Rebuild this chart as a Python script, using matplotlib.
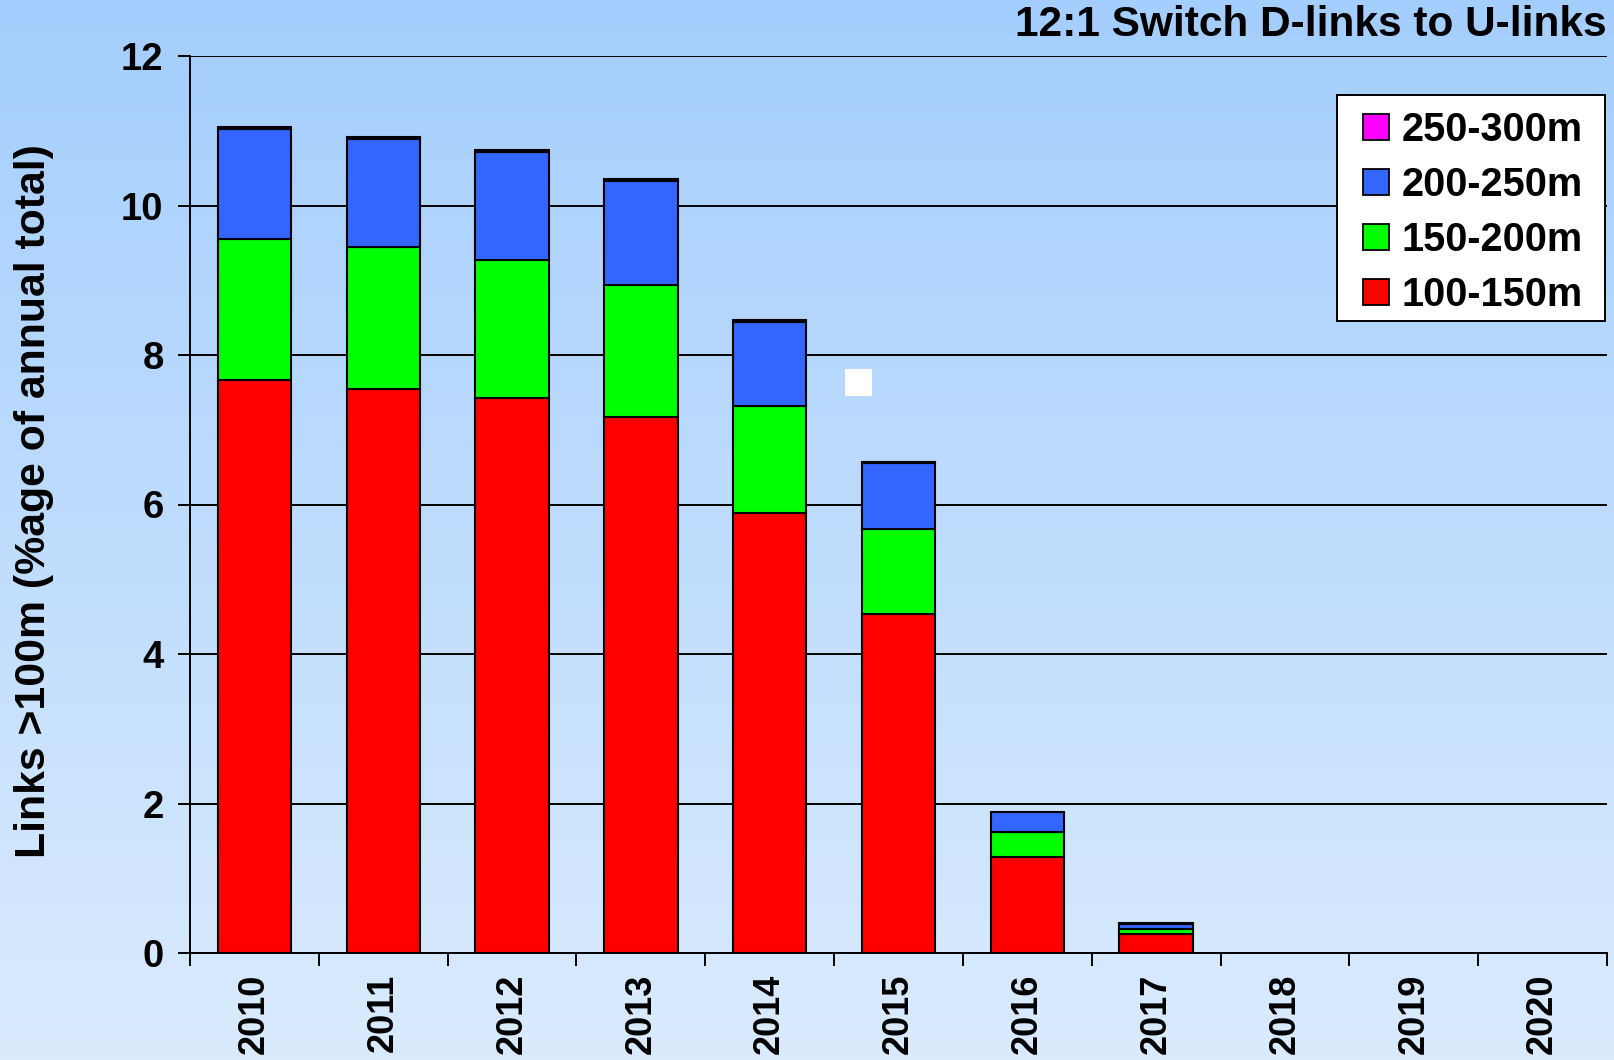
import numpy as np
import matplotlib
matplotlib.use('Agg')
import matplotlib.pyplot as plt
from matplotlib.patches import Rectangle, Patch
from matplotlib.legend_handler import HandlerPatch

plt.rcParams['font.family'] = ['Liberation Sans', 'DejaVu Sans']
plt.rcParams['font.weight'] = 'bold'

years = ['2010', '2011', '2012', '2013', '2014', '2015', '2016', '2017', '2018', '2019', '2020']
d100_150 = [7.66, 7.55, 7.43, 7.17, 5.88, 4.54, 1.29, 0.25, 0, 0, 0]
d150_200 = [1.89, 1.89, 1.84, 1.77, 1.44, 1.13, 0.33, 0.07, 0, 0, 0]
d200_250 = [1.47, 1.45, 1.45, 1.39, 1.12, 0.88, 0.26, 0.07, 0, 0, 0]
d250_300 = [0.025, 0.025, 0.025, 0.025, 0.025, 0.025, 0.0, 0.01, 0, 0, 0]

series = [('100-150m', d100_150, '#ff0000'),
          ('150-200m', d150_200, '#00ff00'),
          ('200-250m', d200_250, '#3366ff'),
          ('250-300m', d250_300, '#ff00ff')]


class SquareHandler(HandlerPatch):
    # legend key as a small black-edged square
    def create_artists(self, legend, orig_handle, xdescent, ydescent,
                       width, height, fontsize, trans):
        s = height
        p = Rectangle((width - s - xdescent, -ydescent), s, s,
                      facecolor=orig_handle.get_facecolor(), edgecolor='black',
                      linewidth=1.3, transform=trans)
        return [p]


fig = plt.figure(figsize=(16.15, 10.60), dpi=100)

# background gradient
bg = fig.add_axes([0, 0, 1, 1], zorder=-10)
top = np.array([164, 206, 254]) / 255
bot = np.array([218, 235, 253]) / 255
t = np.linspace(0, 1, 256)[:, None]
grad = top[None, :] * (1 - t) + bot[None, :] * t
bg.imshow(grad[:, None, :], aspect='auto', extent=[0, 1, 0, 1])
bg.axis('off')

ax = fig.add_axes([190 / 1615, 1 - 953 / 1060, 1417 / 1615, 897 / 1060])
ax.patch.set_alpha(0)

x = np.arange(len(years))
bottom = np.zeros(len(years))
for name, vals, col in series:
    vals = np.array(vals)
    mask = vals > 0
    ax.bar(x[mask], vals[mask], bottom=bottom[mask], width=0.57, color=col,
           edgecolor='black', linewidth=1.5, zorder=3)
    bottom += vals

ax.set_xlim(-0.5, len(years) - 0.5)
ax.set_ylim(0, 12)
ax.set_yticks(range(0, 13, 2))
ax.yaxis.grid(True, color='black', linewidth=1.4)
ax.set_axisbelow(True)
for s in ['top', 'right']:
    ax.spines[s].set_visible(False)
for s in ['left', 'bottom']:
    ax.spines[s].set_linewidth(1.4)

ax.set_xticks(x)
ax.set_xticklabels(years, rotation=90, fontsize=26, fontweight='bold')
ax.tick_params(axis='x', which='major', length=0, pad=15)
ax.set_xticks(np.arange(-0.5, len(years)), minor=True)
ax.tick_params(axis='x', which='minor', length=9, width=1.4, direction='out')
ax.tick_params(axis='y', length=9, width=1.4, labelsize=27.5, pad=10)
for lab in ax.get_yticklabels():
    lab.set_fontweight('bold')

# legend box drawn separately so the padding can match the original
ax.add_patch(Rectangle((0.8095, 0.7046), 0.1891, 0.252, transform=ax.transAxes,
                       facecolor='white', edgecolor='black', linewidth=1.4,
                       clip_on=False, zorder=4))
leg_handles = [Patch(facecolor=c, label=n) for n, _, c in series][::-1]
leg = ax.legend(handles=leg_handles, loc='upper right',
                bbox_to_anchor=(0.983, 0.9387), fontsize=28.5, frameon=False,
                handlelength=0.62, handleheight=0.62, handletextpad=0.33,
                labelspacing=0.43, borderpad=0, borderaxespad=0,
                handler_map={Patch: SquareHandler()})
leg.set_zorder(5)
for txt in leg.get_texts():
    txt.set_fontweight('bold')

fig.text(34 / 1615, 1 - 501 / 1060, 'Links >100m (%age of annual total)', rotation=90,
         ha='center', va='center', fontsize=30.8, fontweight='bold')
fig.text(1607 / 1615, 1 - 25 / 1060, '12:1 Switch D-links to U-links', ha='right',
         va='center', fontsize=30.5, fontweight='bold')

# small white square artefact
fig.patches.append(Rectangle((845 / 1615, 1 - 396 / 1060), 27 / 1615, 27 / 1060,
                             transform=fig.transFigure, facecolor='white',
                             edgecolor='none', zorder=5))

fig.savefig('out.png', dpi=100)
